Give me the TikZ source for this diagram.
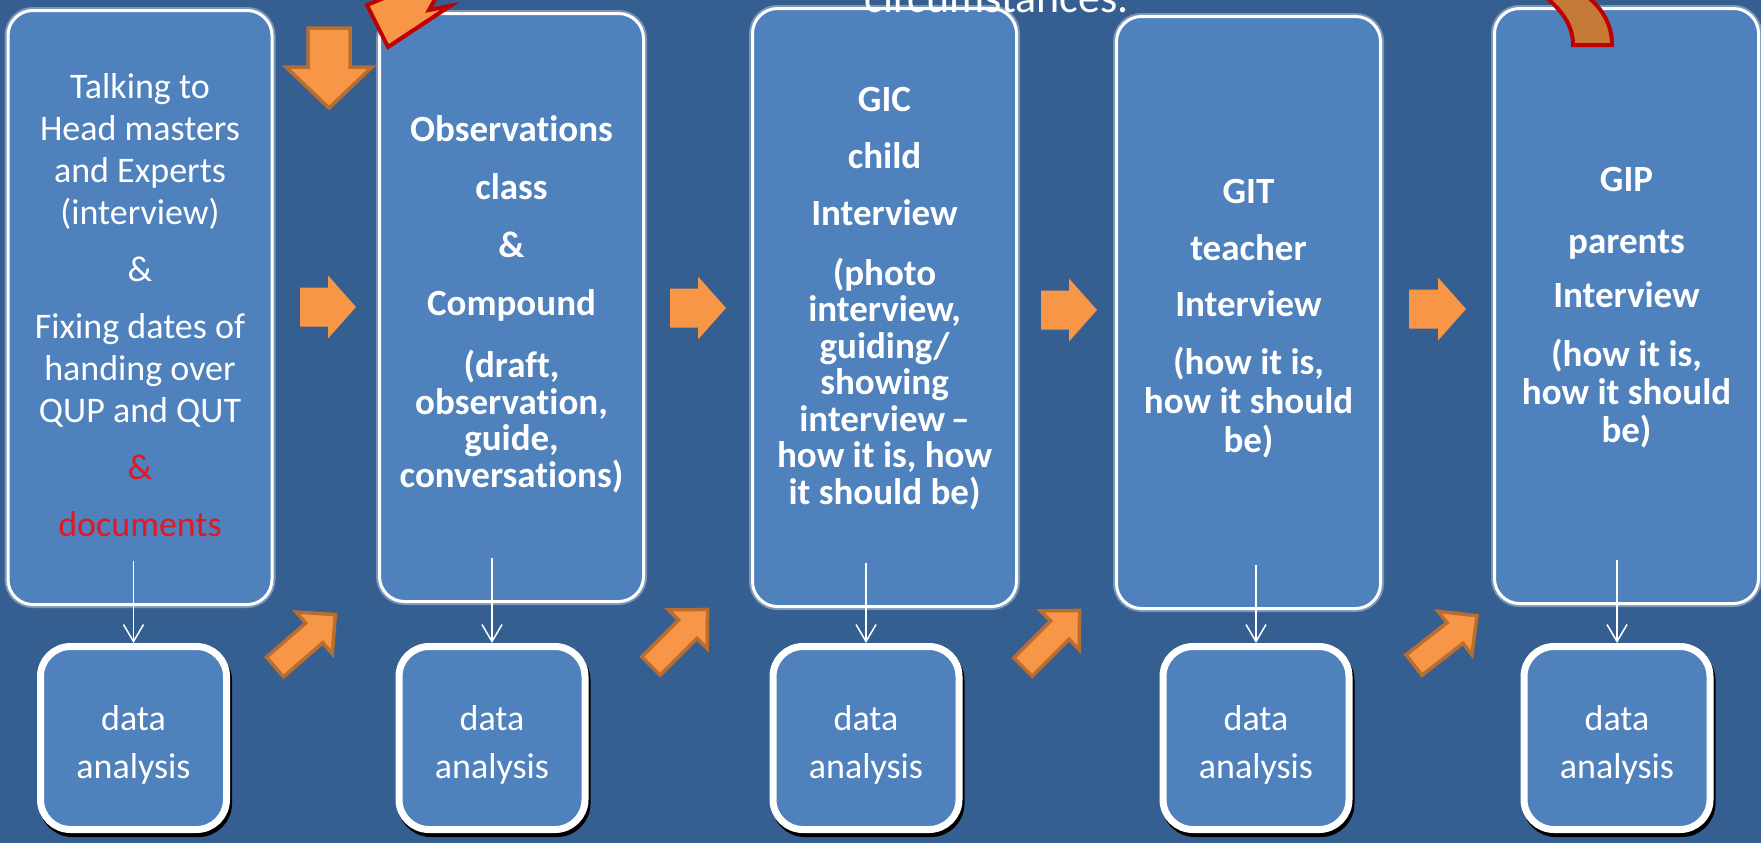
\documentclass[tikz,border=0pt]{standalone}
\usepackage{fontspec}
\setmainfont{Carlito}[Ligatures={NoCommon,NoRequired}]
\usetikzlibrary{arrows.meta, calc}
\definecolor{slideblue}{HTML}{365F91}
\definecolor{boxblue}{HTML}{4F81BD}
\definecolor{stepamber}{HTML}{F79646}
\definecolor{stepedge}{HTML}{B96D2F}
\definecolor{markred}{HTML}{C00000}
\definecolor{docred}{HTML}{E3171F}
\definecolor{bendbrown}{HTML}{C67A38}

% block arrow: style, tail, angle, length, shaft half width, head half width, head length
\newcommand{\blockarrow}[7]{%
  \path[#1, shift={#2}, rotate=#3] (0,-#5) -- ({#4-#7},-#5) -- ({#4-#7},-#6) -- (#4,0)
    -- ({#4-#7},#6) -- ({#4-#7},#5) -- (0,#5) -- cycle;}

\begin{document}
\begin{tikzpicture}[x=0.5pt, y=-0.5pt,
  stagebox/.style={draw=white, line width=1.5pt, fill=boxblue, rounded corners=12.5pt,
    minimum width=132pt, inner sep=0pt,
    preaction={draw=white, opacity=0.35, line width=3.5pt}},
  stagetext/.style={text=white, align=center, inner sep=0pt,
    font=\fontsize{18.5}{18.25}\selectfont\bfseries},
  anabox/.style={draw=white, line width=3.5pt, fill=boxblue, rounded corners=15pt,
    minimum width=93pt, minimum height=91.5pt, inner sep=0pt, text=white, align=center,
    font=\fontsize{18}{24}\selectfont, text height=43.4pt,
    preaction={draw=black, line width=3.5pt, transform canvas={shift={(1pt,-2pt)}}}},
  flowline/.style={draw=white, line width=0.75pt, -{Straight Barb[length=8.5pt, width=10pt]}},
  rightstep/.style={fill=stepamber},
  diagstep/.style={fill=stepamber, draw=stepedge, line width=1.75pt, line join=miter},
  redbolt/.style={fill=stepamber, draw=markred, line width=2pt, line join=miter},
  bendstrip/.style={fill=bendbrown, draw=markred, line width=2pt, line join=miter}]

  % Background
  \useasboundingbox (0,0) rectangle (1761,843);
  \clip (0,0) rectangle (1761,843);
  \fill[slideblue] (0,0) rectangle (1761,843);

  % Stages (tall boxes)
  \node[stagebox, minimum height=297pt] (talk) at (140,307.5) {};
  \node[stagebox, minimum height=294pt] (observe) at (511.5,307.5) {};
  \node[stagebox, minimum height=299pt] (gic) at (884.5,307.5) {};
  \node[stagebox, minimum height=296pt] (git) at (1248.5,312.5) {};
  \node[stagebox, minimum height=297.5pt] (gip) at (1626.5,306) {};

  % Stage texts
  \node[stagetext, font=\fontsize{18}{21}\selectfont] (talkText) at ($(talk.center)+(0,-2)$)
    {Talking to\\ Head masters\\ and Experts\\ (interview)\\[7.5pt] \&\\[7.5pt]
     Fixing dates of\\ handing over\\ QUP and QUT\\[7.5pt]
     {\color{docred}\&}\\[7.5pt] {\color{docred}documents}};
  \node[stagetext] (observeText) at ($(observe.center)+(0,-3)$)
    {Observations\\[10.75pt] class\\[10.75pt] \&\\[10.75pt] Compound\\[12.75pt]
     (draft,\\ observation,\\ guide,\\ conversations)};
  \node[stagetext] (gicText) at ($(gic.center)+(0,-9)$)
    {GIC\\[10pt] child\\[10.5pt] Interview\\[11.5pt]
     (photo\\ interview,\\ guiding/\\ showing\\ interview\,--\\ how it is, how\\ it should be)};
  \node[stagetext, font=\fontsize{18.5}{19.5}\selectfont\bfseries] (gitText) at ($(git.center)+(0,6.5)$)
    {GIT\\[9pt] teacher\\[8.5pt] Interview\\[9.5pt]
     (how it is,\\ how it should\\ be)};
  \node[stagetext, font=\fontsize{18.5}{19}\selectfont\bfseries] (gipText) at ($(gip.center)+(0,1.5)$)
    {GIP\\[12pt] parents\\[8pt] Interview\\[10.5pt]
     (how it is,\\ how it should\\ be)};

  % Data analysis boxes
  \node[anabox] (ana1) at (133.5,738) {data\\analysis};
  \node[anabox] (ana2) at (492,738) {data\\analysis};
  \node[anabox] (ana3) at (866,738) {data\\analysis};
  \node[anabox] (ana4) at (1256,738) {data\\analysis};
  \node[anabox] (ana5) at (1617,738) {data\\analysis};

  % Thin arrows down to the analysis boxes
  \draw[flowline] ($(ana1.north |- talk.south)+(0,-45)$) -- (ana1.north);
  \draw[flowline] ($(ana2.north |- observe.south)+(0,-45)$) -- (ana2.north);
  \draw[flowline] ($(ana3.north |- gic.south)+(0,-45)$) -- (ana3.north);
  \draw[flowline] ($(ana4.north |- git.south)+(0,-45)$) -- (ana4.north);
  \draw[flowline] ($(ana5.north |- gip.south)+(0,-45)$) -- (ana5.north);

  % Block arrows between the stages
  \blockarrow{rightstep}{(300,307)}{0}{56}{19.5}{31.5}{28}
  \blockarrow{rightstep}{(670,308)}{0}{56}{19.5}{31.5}{28}
  \blockarrow{rightstep}{(1041,310)}{0}{56}{19.5}{31.5}{28}
  \blockarrow{rightstep}{(1409,309)}{0}{57}{19.5}{31.5}{28}

  % Diagonal arrows from analysis to next stage
  \blockarrow{diagstep}{(275,667)}{41}{80}{13}{27.5}{28}
  \blockarrow{diagstep}{(651,666)}{45}{80}{13}{27.5}{28}
  \blockarrow{diagstep}{(1023,667)}{45}{80}{13}{27.5}{28}
  \blockarrow{diagstep}{(1414,665)}{38}{80}{13}{27.5}{28}

  % Top decorations (cut by the frame)
  \blockarrow{diagstep}{(329,28)}{-90}{80}{21}{43}{41}
  \path[redbolt] (367,5) -- (388,47) -- (450,6) -- (429,10) -- (439,-8) -- (398,-8) -- cycle;
  \path[bendstrip] (1542,-6) .. controls (1562,10) and (1573,25) .. (1573,45)
    -- (1612,45) .. controls (1612,22) and (1600,6) .. (1584,-6) -- cycle;
  \node[white, inner sep=0pt, anchor=base west, font=\fontsize{22}{22}\selectfont]
    (note) at (864,12) {circumstances.};
\end{tikzpicture}
\end{document}
